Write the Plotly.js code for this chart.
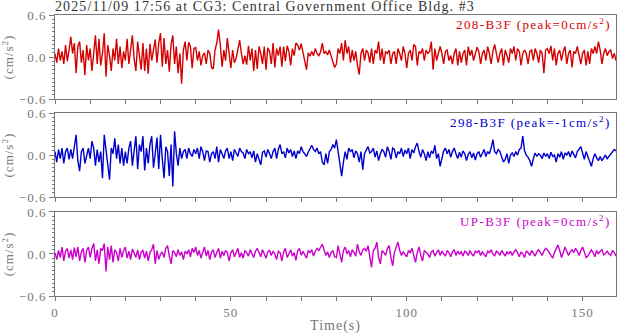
<!DOCTYPE html>
<html>
<head>
<meta charset="utf-8">
<script src="https://cdn.plot.ly/plotly-3.0.1.min.js"></script>
<style>
  html, body { margin: 0; padding: 0; background: #fff; }
  #chart { width: 618px; height: 334px; }
  /* the reference draws its serif text with loose letter spacing */
  #chart svg text { letter-spacing: 1px; }
  #chart .gtitle { letter-spacing: 1.1px; }
  #chart .annotation-text { letter-spacing: 1.4px; }
</style>
</head>
<body>
<div id="chart"></div>
<script>
// Acceleration records, one sample every 0.5 s (cm/s^2)
const sampleStep = 0.5;

const ch208 = [
  0.05, -0.08, 0.12, -0.05, 0.08, -0.1, 0.17, -0.06, 0.1, 0.29,
  0.05, 0.2, -0.23, 0.15, 0.22, -0.08, 0.1, -0.26, 0.17, -0.05,
  0.12, -0.2, 0.05, 0.31, -0.1, 0.26, -0.12, 0.05, 0.34, -0.28,
  0.17, 0.02, -0.2, 0.12, -0.05, 0.26, -0.1, 0.15, -0.16, 0.08,
  -0.05, 0.26, -0.1, 0.1, 0.31, -0.03, -0.2, 0.22, 0.05, -0.18,
  0.2, -0.2, 0.12, -0.24, 0.19, -0.05, 0.1, 0.25, -0.08, 0.2,
  0.34, -0.14, 0.27, -0.1, 0.1, -0.21, 0.18, 0.31, -0.1, 0.15,
  -0.23, 0.05, -0.38, 0.1, 0.22, -0.05, 0.21, 0.15, -0.16, 0.12,
  0.14, -0.05, 0.08, -0.12, 0.02, 0.06, -0.1, 0.1, 0.05, -0.15,
  -0.17, 0.1, 0.2, 0.39, 0.17, -0.14, 0.1, -0.05, 0.27, 0.05,
  -0.16, 0.1, -0.08, -0.02, 0.12, 0.24, 0.05, -0.1, 0.02, -0.11,
  0.16, -0.05, 0.12, -0.2, 0.1, -0.17, 0.15, 0.05, -0.1, 0.15,
  -0.18, 0.13, 0.08, -0.1, 0.2, -0.15, 0.12, 0.02, 0.15, -0.14,
  0.15, -0.06, 0.16, 0.08, -0.12, 0.12, 0.02, 0.2, 0.17, 0.1,
  0.19, 0.05, -0.1, -0.18, 0.06, 0.01, 0.08, 0.02, 0.12, 0.05,
  0.02, 0.07, 0.2, 0.05, 0.08, 0.03, 0.1, 0.02, -0.05, -0.15,
  -0.1, 0.12, 0.05, 0.2, -0.05, 0.24, 0.05, 0.15, -0.08, 0.1,
  -0.05, 0.08, -0.12, -0.25, 0.05, 0.12, -0.05, 0.1, 0.06, -0.08,
  0.12, -0.1, 0.1, 0.05, 0.22, -0.05, 0.12, -0.1, 0.08, 0.05,
  0.1, -0.1, 0.05, 0.08, -0.1, 0.12, 0.05, -0.05, 0.15, 0.05,
  -0.16, 0.05, 0.1, -0.05, 0.18, 0.15, -0.12, 0.08, 0.05, 0.12,
  -0.05, 0.1, 0.05, 0.08, 0.22, -0.18, 0.12, -0.05, 0.05, 0.15,
  0.05, -0.1, 0.08, 0.1, -0.05, 0.02, -0.1, 0.05, 0.12, -0.12,
  0.08, -0.08, 0.05, 0.1, -0.12, 0.15, 0.02, 0.1, -0.05, 0.05,
  0.14, 0.08, -0.1, 0.05, 0.1, -0.05, 0.15, 0.05, -0.1, 0.08,
  0.18, 0.05, -0.08, 0.05, 0.12, -0.12, 0.1, 0.02, -0.08, 0.12,
  0.05, 0.15, -0.05, 0.12, 0.08, -0.12, 0.05, 0.1, 0.05, -0.1,
  0.08, 0.1, -0.05, 0.12, 0.05, -0.08, 0.1, 0.05, -0.23, 0.1,
  0.12, 0.05, 0.16, -0.05, 0.12, -0.12, 0.05, 0.1, -0.05, 0.08,
  0.15, -0.1, 0.05, 0.1, -0.15, 0.08, 0.05, 0.15, 0.02, -0.1,
  0.05, 0.1, -0.12, 0.08, -0.1, 0.12, 0.05, 0.15, 0.05, 0.22,
  0.1, -0.1, 0.05, 0.12, 0.02, 0.08, 0.1, -0.02, 0.05, -0.05
];

const ch298 = [
  0.05, -0.1, 0.08, -0.05, 0.1, -0.12, 0.05, 0.1, -0.06, 0.08,
  -0.05, 0.12, 0.29, -0.08, -0.23, 0.05, 0.1, -0.12, 0.02, 0.1,
  -0.05, 0.2, 0.1, -0.15, 0.08, -0.1, 0.05, -0.33, 0.29, 0.05,
  -0.1, -0.35, 0.1, 0.02, 0.24, -0.05, 0.15, -0.12, 0.1, -0.15,
  0.05, -0.12, 0.1, 0.2, -0.15, 0.08, 0.27, -0.2, 0.15, 0.05,
  0.27, -0.22, 0.1, -0.12, 0.15, 0.27, -0.18, 0.02, 0.25, -0.2,
  0.29, -0.05, -0.33, 0.12, 0.05, -0.3, 0.15, -0.45, 0.34, 0.02,
  -0.15, 0.1, -0.05, 0.05, 0.08, -0.05, 0.1, 0.02, -0.02, 0.08,
  0.02, 0.1, -0.05, 0.12, 0.05, -0.08, 0.06, 0.05, -0.1, 0.02,
  0.05, -0.05, 0.12, -0.1, 0.08, 0.02, -0.05, 0.06, 0.1, -0.05,
  0.05, -0.08, 0.08, 0.03, -0.02, 0.1, 0.05, 0.03, -0.05, 0.08,
  0.02, 0.05, -0.04, 0.06, -0.1, 0.02, -0.06, -0.14, 0.04, 0.06,
  -0.03, 0.08, 0.02, -0.05, 0.05, 0.1, -0.05, 0.08, 0.15, 0.02,
  0.05, -0.04, 0.1, 0.03, 0.08, -0.02, 0.06, -0.05, 0.06, 0.02,
  0.12, 0.05, 0.02, -0.02, 0.04, 0.1, 0.14, 0.08, 0.05, 0.1,
  0.02, 0.05, -0.1, -0.14, 0.02, -0.12, 0.05, 0.08, 0.15, 0.1,
  0.22, 0.05, -0.12, -0.3, -0.1, 0.05, -0.06, 0.1, 0.05, 0.08,
  -0.04, 0.06, 0.02, -0.1, 0.05, -0.21, 0.02, 0.08, 0.12, 0.03,
  0.05, 0.1, -0.03, 0.06, -0.08, 0.02, 0.08, 0.05, -0.03, 0.12,
  0.05, -0.06, 0.1, 0.08, -0.04, 0.05, 0.02, 0.1, -0.02, 0.07,
  0.02, 0.1, -0.05, 0.08, 0.03, 0.12, 0.17, 0.05, -0.03, 0.08,
  0.02, -0.08, 0.05, -0.04, 0.06, 0.02, 0.14, -0.05, 0.02, -0.16,
  -0.05, 0.06, 0.1, 0.02, 0.08, -0.03, 0.05, 0.1, 0.02, -0.05,
  0.04, -0.03, 0.06, 0.02, -0.08, 0.01, 0.05, -0.04, 0.03, -0.07,
  0.02, 0.05, -0.03, 0.04, 0.08, -0.02, 0.05, 0.02, 0.1, 0.22,
  0.05, 0.02, 0.08, 0.05, -0.02, -0.1, -0.06, 0.02, -0.12, 0.0,
  0.03, -0.02, 0.05, 0.0, 0.08, 0.1, 0.27, 0.06, 0.0, -0.03,
  -0.08, -0.16, -0.05, 0.03, -0.02, 0.02, 0.0, -0.05, 0.03, -0.02,
  0.02, -0.05, 0.04, -0.02, 0.0, -0.1, 0.02, -0.03, 0.05, -0.06,
  0.03, 0.0, 0.05, -0.03, 0.06, 0.02, -0.04, 0.05, 0.08, 0.12,
  0.03, -0.06, 0.05, -0.02, -0.1, -0.16, -0.05, 0.02, -0.04, -0.08,
  -0.02, -0.08, -0.04, 0.0, -0.05, -0.02, 0.02, 0.05, 0.08, 0.06
];

const chUP = [
  0.02, -0.08, 0.05, -0.05, 0.1, -0.1, 0.04, 0.08, -0.06, 0.06,
  -0.08, 0.09, -0.04, 0.1, -0.1, 0.03, 0.08, -0.12, 0.05, 0.1,
  -0.05, 0.08, 0.15, -0.1, 0.06, -0.14, 0.08, 0.05, 0.15, -0.25,
  0.1, -0.08, 0.12, -0.12, 0.06, 0.02, -0.1, 0.08, -0.05, 0.05,
  0.1, -0.06, 0.04, -0.08, 0.07, 0.02, -0.05, 0.06, -0.08, 0.03,
  0.05, -0.06, 0.04, -0.1, 0.02, 0.06, 0.14, -0.14, 0.05, -0.08,
  0.0, 0.03, -0.05, 0.08, 0.12, -0.03, -0.14, 0.05, 0.02, -0.04,
  0.06, -0.02, 0.03, -0.08, 0.04, 0.0, 0.06, -0.04, 0.08, 0.02,
  0.1, -0.02, 0.05, -0.06, 0.04, 0.1, -0.03, 0.05, -0.08, 0.03,
  0.06, -0.05, 0.02, 0.08, -0.06, 0.04, -0.02, 0.05, 0.02, -0.1,
  0.02, 0.06, -0.04, 0.03, 0.08, -0.05, 0.02, -0.06, 0.05, 0.02,
  -0.03, 0.06, 0.0, -0.05, 0.04, 0.08, 0.02, -0.04, 0.06, 0.0,
  -0.06, 0.03, 0.05, -0.02, 0.04, 0.0, -0.08, 0.04, 0.02, -0.1,
  0.03, 0.08, -0.05, 0.0, 0.06, -0.03, 0.02, -0.09, 0.05, 0.08,
  -0.02, 0.04, 0.0, -0.06, 0.05, 0.02, 0.06, -0.03, 0.04, 0.08,
  0.05, 0.1, 0.14, 0.06, -0.02, 0.03, -0.05, 0.02, 0.05, -0.04,
  -0.05, 0.12, 0.02, -0.12, 0.05, 0.1, 0.0, 0.05, -0.04, 0.06,
  0.02, -0.03, 0.14, 0.03, -0.02, 0.06, 0.08, 0.04, 0.12, -0.05,
  -0.19, 0.05, 0.08, 0.17, -0.05, -0.14, 0.05, 0.02, -0.02, 0.08,
  0.12, -0.05, -0.17, 0.02, 0.1, 0.17, 0.05, -0.02, 0.03, 0.0,
  -0.04, 0.05, 0.02, 0.08, -0.03, -0.12, 0.02, 0.1, -0.02, -0.1,
  0.05, 0.02, 0.0, -0.05, 0.03, 0.05, -0.03, 0.02, 0.06, -0.02,
  0.04, 0.0, -0.03, 0.05, 0.02, -0.04, 0.03, 0.06, -0.02, 0.04,
  0.0, 0.03, -0.03, 0.04, 0.02, -0.02, 0.05, 0.0, -0.03, 0.04,
  0.02, 0.05, -0.02, 0.03, 0.0, -0.04, 0.04, 0.02, 0.06, 0.0,
  -0.03, 0.04, 0.02, -0.02, 0.05, 0.01, -0.03, 0.03, 0.0, 0.04,
  -0.02, 0.03, 0.06, 0.02, -0.04, 0.03, 0.0, -0.05, 0.04, 0.02,
  -0.02, 0.05, 0.0, -0.03, 0.03, 0.06, 0.02, -0.02, 0.04, 0.08,
  0.06, 0.02, -0.03, -0.06, 0.02, 0.08, 0.13, 0.05, -0.05, 0.02,
  0.1, 0.04, -0.02, 0.03, 0.06, 0.02, 0.08, 0.04, -0.02, 0.05,
  0.1, 0.03, -0.05, -0.03, 0.02, 0.06, 0.02, -0.04, 0.05, 0.0,
  0.04, 0.06, -0.02, 0.02, 0.04, 0.0, -0.02, 0.05, 0.02, -0.03
];

const channelNames = ['208-B3F', '298-B3F', 'UP-B3F'];
const channelPeaks = [0, -1, 0];
const channelColors = ['#d40000', '#0000cc', '#cc00cc'];
const yTickVals = [-0.6, 0.0, 0.6];

const titleText = '2025/11/09 17:56 at CG3: Central Government Office Bldg. #3';
const serif = 'Liberation Serif, Times New Roman, serif';
const grey = '#777';

// top panel first
const series = [ch208, ch298, chUP];
const domains = [[0.701, 1.0], [0.352, 0.651], [0.0, 0.299]];
const axisIds = ['3', '2', ''];
// left edge of each label (paper fraction); the spaced text runs right from here
const labelLeft = [0.711, 0.701, 0.719];

const traces = series.map((vals, i) => ({
  y: vals,
  x0: 0,
  dx: sampleStep,
  type: 'scatter',
  mode: 'lines',
  line: { color: channelColors[i], width: 1.4 },
  xaxis: 'x' + axisIds[i],
  yaxis: 'y' + axisIds[i],
  hoverinfo: 'skip',
  showlegend: false
}));

const layout = {
  width: 618,
  height: 334,
  margin: { l: 55, r: 2, t: 15, b: 38 },
  paper_bgcolor: '#ffffff',
  plot_bgcolor: '#ffffff',
  font: { family: serif, size: 13, color: grey },
  title: {
    text: titleText,
    font: { family: serif, size: 14, color: '#333' },
    x: 55 / 618, xanchor: 'left',
    y: 0.995, yanchor: 'top'
  },
  annotations: channelNames.map((name, i) => ({
    text: name + ' (peak=' + channelPeaks[i] + 'cm/s<sup>2</sup>)',
    xref: 'paper', yref: 'paper',
    x: labelLeft[i], y: domains[i][1],
    xanchor: 'left', yanchor: 'top', align: 'left',
    yshift: 1,
    showarrow: false,
    font: { family: serif, size: 13, color: channelColors[i] }
  }))
};

axisIds.forEach((id, i) => {
  const bottom = id === '';
  const xa = {
    anchor: 'y' + id,
    domain: [0, 1],
    range: [0, 159.5],
    showgrid: false,
    zeroline: false,
    showline: true,
    linecolor: grey,
    linewidth: 1,
    mirror: true,
    ticks: 'outside',
    ticklen: 4,
    tickcolor: grey,
    dtick: 50,
    tick0: 0,
    showticklabels: bottom,
    tickfont: { family: serif, size: 13, color: grey },
    minor: { dtick: 10, ticks: 'outside', ticklen: 4, tickcolor: grey, showgrid: false }
  };
  if (bottom) {
    xa.title = { text: 'Time(s)', font: { family: serif, size: 14, color: grey }, standoff: 4 };
  } else {
    xa.matches = 'x';
  }
  layout['xaxis' + id] = xa;
  layout['yaxis' + id] = {
    anchor: 'x' + id,
    domain: domains[i],
    range: [-0.6, 0.6],
    showgrid: false,
    zeroline: false,
    showline: true,
    linecolor: grey,
    linewidth: 1,
    mirror: true,
    ticks: 'outside',
    ticklen: 5,
    tickcolor: grey,
    tickvals: yTickVals,
    tickformat: '.1f',
    tickfont: { family: serif, size: 13, color: grey },
    minor: { dtick: 0.06, tick0: 0, ticks: 'outside', ticklen: 2, tickcolor: grey, showgrid: false },
    title: { text: '(cm/s<sup>2</sup>)', font: { family: serif, size: 13, color: grey }, standoff: 6 }
  };
});

Plotly.newPlot('chart', traces, layout, { displayModeBar: false, staticPlot: true });
</script>
</body>
</html>
